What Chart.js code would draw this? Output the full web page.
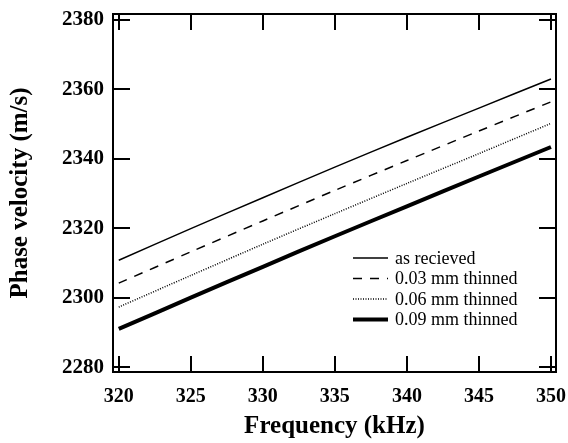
<!DOCTYPE html>
<html>
<head>
<meta charset="utf-8">
<script src="https://cdn.jsdelivr.net/npm/chart.js@4"></script>
<style>
  html, body { margin: 0; padding: 0; background: #fff; }
  #wrap { width: 568px; height: 443px; position: relative; }
</style>
</head>
<body>
<div id="wrap"><canvas id="chart"></canvas></div>
<script>
const frequency = [320, 325, 330, 335, 340, 345, 350];
const asRecieved = [2310.8, 2319.9, 2328.8, 2337.6, 2346.2, 2354.6, 2363.0];
const thinned003 = [2304.2, 2313.2, 2322.1, 2330.9, 2339.5, 2348.0, 2356.4];
const thinned006 = [2297.3, 2306.4, 2315.4, 2324.2, 2332.9, 2341.5, 2350.2];
const thinned009 = [2291.0, 2300.0, 2308.9, 2317.7, 2326.3, 2334.9, 2343.4];
const xTicks = [320, 325, 330, 335, 340, 345, 350];
const yTicks = [2280, 2300, 2320, 2340, 2360, 2380];
const seriesNames = ['as recieved', '0.03 mm thinned', '0.06 mm thinned', '0.09 mm thinned'];

const serif = '"Liberation Serif", "Times New Roman", serif';

function points(values) {
    return frequency.map((f, i) => ({ x: f, y: values[i] }));
}

// frame, inward ticks on all four sides, and the legend inside the plot
const frameTicks = {
    id: 'frameTicks',
    afterDatasetsDraw(chart) {
        const { ctx, chartArea: a, scales: { x, y } } = chart;
        ctx.save();
        ctx.strokeStyle = '#000';
        ctx.lineWidth = 2;
        ctx.setLineDash([]);
        ctx.strokeRect(a.left, a.top, a.right - a.left, a.bottom - a.top);
        ctx.beginPath();
        xTicks.forEach(v => {
            const px = Math.round(x.getPixelForValue(v));
            ctx.moveTo(px, a.bottom); ctx.lineTo(px, a.bottom - 16);
            ctx.moveTo(px, a.top); ctx.lineTo(px, a.top + 16);
        });
        yTicks.forEach(v => {
            const py = Math.round(y.getPixelForValue(v));
            ctx.moveTo(a.left, py); ctx.lineTo(a.left + 17, py);
            ctx.moveTo(a.right, py); ctx.lineTo(a.right - 17, py);
        });
        ctx.stroke();

        // legend
        ctx.font = '18px ' + serif;
        ctx.fillStyle = '#000';
        ctx.textBaseline = 'middle';
        chart.data.datasets.forEach((ds, i) => {
            const ly = 258 + i * 20.5;
            ctx.beginPath();
            ctx.lineWidth = ds.borderWidth;
            ctx.setLineDash(ds.borderDash || []);
            ctx.moveTo(353, ly);
            ctx.lineTo(388, ly);
            ctx.stroke();
            ctx.fillText(ds.label, 395, ly + 1);
        });
        ctx.restore();
    }
};

document.addEventListener('DOMContentLoaded', () => {
    const ctx = document.getElementById('chart').getContext('2d');
    new Chart(ctx, {
        type: 'line',
        data: {
            datasets: [
                { label: seriesNames[0], data: points(asRecieved), borderWidth: 1.5, borderDash: [] },
                { label: seriesNames[1], data: points(thinned003), borderWidth: 1.5, borderDash: [9, 8] },
                { label: seriesNames[2], data: points(thinned006), borderWidth: 1.5, borderDash: [1, 1.5] },
                { label: seriesNames[3], data: points(thinned009), borderWidth: 4, borderDash: [] }
            ].map(d => Object.assign(d, {
                borderColor: '#000',
                backgroundColor: '#000',
                pointRadius: 0,
                fill: false,
                tension: 0.3
            }))
        },
        options: {
            responsive: true,
            maintainAspectRatio: false,
            animation: false,
            layout: { autoPadding: false, padding: { top: 14, right: 12, left: 0, bottom: 0 } },
            plugins: {
                legend: { display: false },
                tooltip: { enabled: false }
            },
            scales: {
                x: {
                    type: 'linear',
                    min: 319.6,
                    max: 350.35,
                    afterBuildTicks: s => { s.ticks = xTicks.map(v => ({ value: v })); },
                    afterFit: s => { s.height = 71; s.paddingLeft = 0; s.paddingRight = 0; },
                    grid: { display: false, drawTicks: false },
                    border: { display: false },
                    ticks: {
                        color: '#000',
                        padding: 13,
                        maxRotation: 0,
                        callback: v => String(v),
                        font: { family: serif, size: 20, weight: 'bold' }
                    },
                    title: {
                        display: true,
                        text: 'Frequency (kHz)',
                        color: '#000',
                        padding: { top: 0, bottom: 1 },
                        font: { family: serif, size: 25, weight: 'bold' }
                    }
                },
                y: {
                    type: 'linear',
                    min: 2278.6,
                    max: 2381.7,
                    afterBuildTicks: s => { s.ticks = yTicks.map(v => ({ value: v })); },
                    afterFit: s => { s.width = 113; s.paddingTop = 0; s.paddingBottom = 0; },
                    grid: { display: false, drawTicks: false },
                    border: { display: false },
                    ticks: {
                        color: '#000',
                        padding: 9,
                        callback: v => String(v),
                        font: { family: serif, size: 21, weight: 'bold' }
                    },
                    title: {
                        display: true,
                        text: 'Phase velocity (m/s)',
                        color: '#000',
                        padding: { top: 6, bottom: 0 },
                        font: { family: serif, size: 25, weight: 'bold' }
                    }
                }
            }
        },
        plugins: [frameTicks]
    });
});
</script>
</body>
</html>
